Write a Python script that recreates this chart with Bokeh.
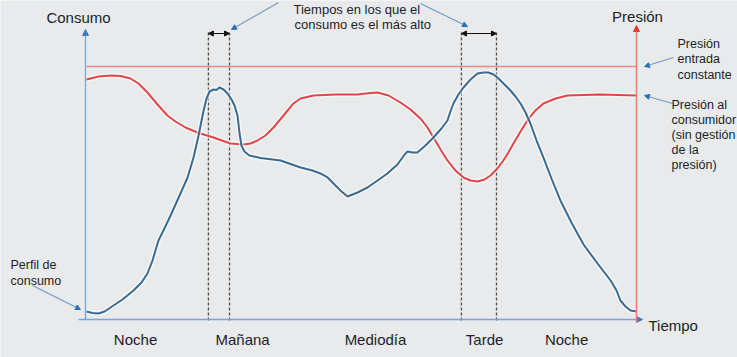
from bokeh.plotting import figure
from bokeh.models import Range1d, Arrow, NormalHead, Label
from bokeh.embed import file_html
from bokeh.resources import INLINE

# ---------------- data (schematic values) ----------------
# time of day in hours (0..24); levels in % of the constant entry pressure
hours = [0.00, 0.26, 0.52, 0.79, 1.05, 1.57, 2.05, 2.40, 2.66, 2.88, 3.14, 3.40,
         3.67, 4.10, 4.41, 4.67, 4.89, 5.11, 5.24, 5.37, 5.54, 5.67, 5.80, 5.98,
         6.15, 6.33, 6.46, 6.59, 6.68, 6.76, 6.89, 7.11, 7.59, 8.47, 9.34, 9.86,
         10.21, 10.52, 10.78, 11.08, 11.39, 11.83, 12.26, 12.70, 13.13, 13.57,
         13.88, 14.01, 14.23, 14.44, 14.79, 15.14, 15.49, 15.75, 15.88, 16.01,
         16.23, 16.45, 16.76, 17.06, 17.32, 17.54, 17.76, 17.93, 18.24, 18.50,
         18.72, 18.94, 19.16, 19.37, 19.64, 19.94, 20.29, 20.68, 21.16, 21.69,
         22.30, 22.87, 23.13, 23.30, 23.52, 23.74, 24.00]
consumption = [3.16, 2.57, 2.37, 3.16, 4.74, 7.91, 11.46, 14.62, 18.18, 23.32,
               31.23, 35.97, 41.11, 49.80, 56.13, 64.03, 72.73, 82.61, 87.35,
               90.12, 90.91, 90.71, 91.70, 90.91, 89.33, 86.96, 84.58, 80.63,
               73.52, 68.77, 66.40, 64.82, 63.83, 62.85, 60.08, 58.89, 57.71,
               56.13, 53.75, 50.99, 48.62, 50.20, 52.17, 54.94, 57.71, 61.26,
               65.22, 66.40, 66.01, 66.01, 68.77, 71.94, 75.49, 78.66, 82.21,
               85.38, 88.93, 91.70, 94.86, 97.23, 97.63, 97.63, 96.84, 95.65,
               92.89, 90.51, 88.14, 85.38, 81.82, 77.47, 70.75, 64.03, 55.73,
               47.04, 38.34, 29.64, 22.13, 15.42, 11.46, 7.51, 5.14, 3.56, 3.16]

p_hours = [0.00, 0.52, 1.05, 1.48, 1.92, 2.27, 2.66, 3.10, 3.53, 3.88, 4.32,
           4.84, 5.54, 6.28, 6.85, 7.16, 7.46, 7.81, 8.16, 8.60, 9.03, 9.34,
           9.91, 10.87, 11.83, 12.39, 12.70, 13.18, 13.70, 14.14, 14.57, 14.88,
           15.14, 15.45, 15.75, 16.10, 16.45, 16.76, 17.06, 17.37, 17.63, 17.93,
           18.19, 18.41, 18.63, 18.94, 19.24, 19.59, 19.94, 20.47, 20.99, 22.43,
           24.00]
pressure = [94.86, 96.05, 96.44, 96.25, 95.26, 93.28, 89.72, 84.98, 80.63,
            78.26, 75.89, 73.91, 71.94, 69.57, 69.17, 69.57, 70.75, 72.73,
            75.89, 80.63, 85.38, 87.35, 88.54, 88.93, 88.93, 89.53, 89.72,
            88.54, 85.77, 83.00, 79.45, 75.89, 71.94, 67.19, 62.85, 58.89,
            56.13, 54.94, 54.55, 55.34, 56.92, 59.68, 62.85, 66.01, 69.57,
            74.31, 78.66, 82.61, 85.38, 87.35, 88.54, 88.93, 88.54]

entry_pressure = 100.0
peak_windows = [(5.32, 6.24), (16.36, 17.89)]

periods = ["Noche", "Mañana", "Mediodía", "Tarde", "Noche"]
period_hours = [2.14, 6.81, 12.61, 17.37, 20.95]

# ---------------- layout helpers (picture pixel -> data units) ----------------
W, H = 737, 357
def X(px):
    return (px - 86) * 24 / 550
def Y(py):
    return (319 - py) / 2.53

BG = "#e8eaeb"
BLUE = "#3b6a90"
RED = "#e0454a"
TXT = "#1e1e28"
FONT = "Liberation Sans"

p = figure(width=W, height=H, x_range=Range1d(X(0), X(W)),
           y_range=Range1d(Y(H), Y(0)), output_backend="svg",
           toolbar_location=None, min_border=0)
p.axis.visible = False
p.grid.visible = False
p.outline_line_color = None
p.background_fill_color = BG
p.border_fill_color = BG

# dashed peak-window lines
for a, b in peak_windows:
    for xx in (a, b):
        p.segment(x0=[xx], y0=[Y(320)], x1=[xx], y1=[Y(32)], line_color="#505050",
                  line_width=1.3, line_dash="3 2")

# entry pressure constant line
p.line([hours[0], hours[-1]], [entry_pressure, entry_pressure], line_color="#f08888",
       line_width=1.6)

# curves with a light halo
p.line(p_hours, pressure, line_color="white", line_width=5, line_alpha=0.6,
       line_join="round")
p.line(p_hours, pressure, line_color=RED, line_width=2, line_join="round")
p.line(hours, consumption, line_color="white", line_width=5, line_alpha=0.6,
       line_join="round")
p.line(hours, consumption, line_color=BLUE, line_width=2, line_join="round")

# axes with arrows
def arrow(x0, y0, x1, y1, color, head_color, width=1.3, size=6):
    p.add_layout(Arrow(
        end=NormalHead(size=size, fill_color=head_color, line_color=head_color),
        x_start=X(x0), y_start=Y(y0), x_end=X(x1), y_end=Y(y1),
        line_color=color, line_width=width))

arrow(85, 320, 85, 29, "#7aa6d2", "#3f7cc0", 1.3, 6)
arrow(78, 319, 642, 319, "#7aa6d2", "#3f7cc0", 1.3, 6)
arrow(636, 322, 636, 25, "#f27a7a", "#e83a3a", 1.5, 6)

# double arrows over peak windows
for a, b in peak_windows:
    p.add_layout(Arrow(
        start=NormalHead(size=5, fill_color="#111111", line_color="#111111"),
        end=NormalHead(size=5, fill_color="#111111", line_color="#111111"),
        x_start=a, y_start=Y(33), x_end=b, y_end=Y(33),
        line_color="#111111", line_width=1.2))

# pointer arrows of annotations
PTR = "#6f9cc8"
PTRH = "#2f6fb0"
arrow(278, 2, 231, 29, PTR, PTRH, 1.2, 5)
arrow(420, 3, 467, 26, PTR, PTRH, 1.2, 5)
arrow(673, 57, 644, 66, PTR, PTRH, 1.2, 5)
arrow(672, 103, 644, 95, PTR, PTRH, 1.2, 5)
arrow(32, 285, 80, 309, PTR, PTRH, 1.2, 5)

def label(px, py, text, size="12.5px", align="left", color=TXT):
    p.add_layout(Label(x=X(px), y=Y(py), text=text, text_font=FONT,
                       text_font_size=size, text_align=align,
                       text_baseline="middle", text_color=color))

label(78, 17, "Consumo", "15px", "center")
label(637, 16, "Presión", "15px", "center")
label(648, 325, "Tiempo", "15px", "left")

label(293, 9, "Tiempos en los que el", "13px")
label(294, 24, "consumo es el más alto", "13px")

for i, t in enumerate(["Presión", "entrada", "constante"]):
    label(677, 43 + 15.5 * i, t, "12.5px")
for i, t in enumerate(["Presión al", "consumidor", "(sin gestión", "de la", "presión)"]):
    label(671, 104 + 15.2 * i, t, "12.5px")
for i, t in enumerate(["Perfil de", "consumo"]):
    label(10, 264 + 16 * i, t, "12.5px")

for name, hr in zip(periods, period_hours):
    p.add_layout(Label(x=hr, y=Y(339), text=name, text_font=FONT,
                       text_font_size="15px", text_align="center",
                       text_baseline="middle", text_color=TXT))

open("out.html", "w").write(file_html(p, INLINE))
